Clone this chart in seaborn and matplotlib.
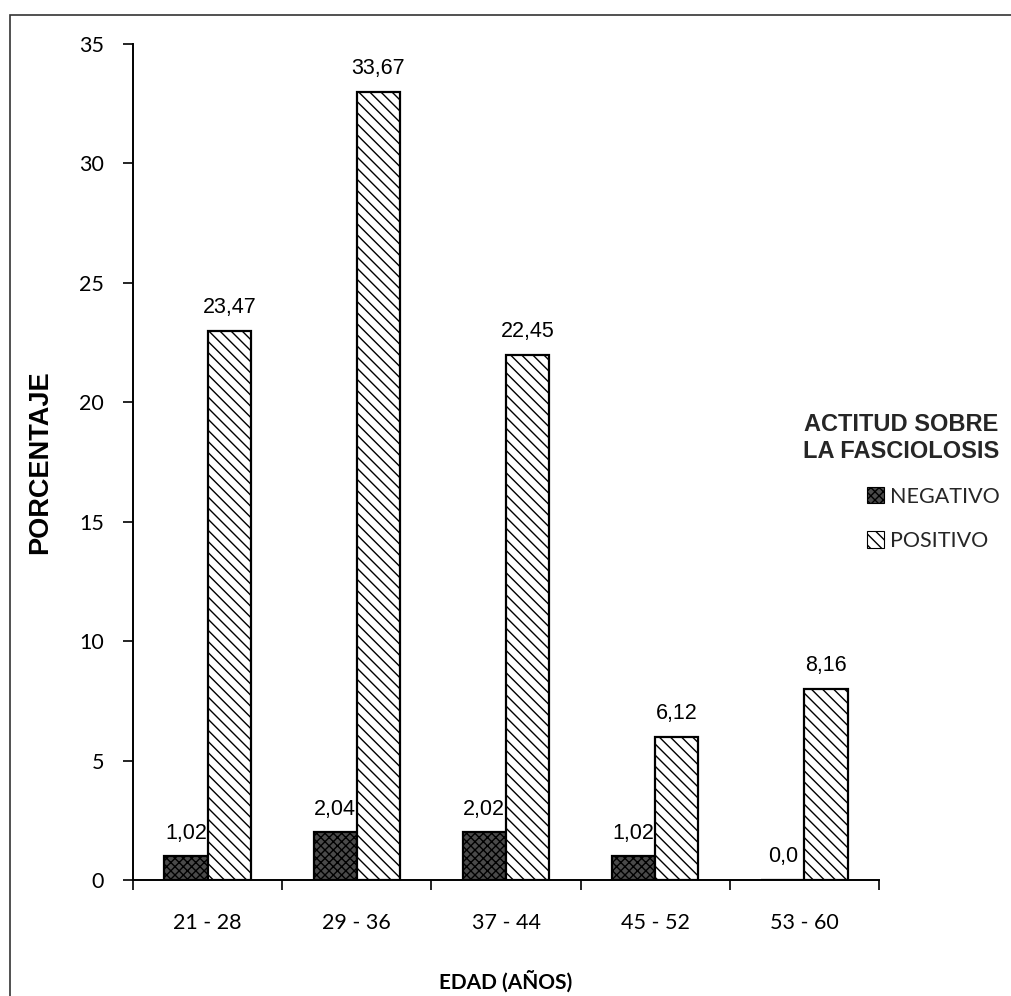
import matplotlib
matplotlib.use("Agg")
import matplotlib.pyplot as plt
import seaborn as sns
import pandas as pd
from matplotlib.patches import Patch, Rectangle

# ---- data ----
categories = ["21 - 28", "29 - 36", "37 - 44", "45 - 52", "53 - 60"]
negativo = [1, 2, 2, 1, 0]
positivo = [23, 33, 22, 6, 8]
negativo_labels = ["1,02", "2,04", "2,02", "1,02", "0,0"]
positivo_labels = ["23,47", "33,67", "22,45", "6,12", "8,16"]
series_names = ["NEGATIVO", "POSITIVO"]
y_ticks = [0, 5, 10, 15, 20, 25, 30, 35]

df = pd.DataFrame({
    "edad": categories * 2,
    "pct": negativo + positivo,
    "actitud": [series_names[0]] * len(categories) + [series_names[1]] * len(categories),
})

sns.set_theme(style="white")
plt.rcParams["hatch.linewidth"] = 1.0
plt.rcParams["hatch.color"] = "black"

fig = plt.figure(figsize=(10.11, 9.96), dpi=100)
ax = fig.add_axes([0.1316, 0.1165, 0.7378, 0.8393])

sns.barplot(data=df, x="edad", y="pct", hue="actitud", order=categories,
            hue_order=series_names, palette=["#4a4a4a", "white"],
            width=0.58, gap=0, edgecolor="black", linewidth=1.6,
            saturation=1, legend=False, ax=ax)

hatches = ["xxxx", "\\\\\\"]
faces = ["#4a4a4a", "white"]
for cont, h, fc in zip(ax.containers, hatches, faces):
    for p in cont:
        p.set_hatch(h)
        p.set_facecolor(fc)
        p.set_edgecolor("black")

value_font = dict(family="Liberation Sans", size=15.5, color="black")
ax.bar_label(ax.containers[0], labels=negativo_labels, padding=9, **value_font)
ax.bar_label(ax.containers[1], labels=positivo_labels, padding=9, **value_font)

ax.set_ylim(0, 35)
ax.set_xlim(-0.5, len(categories) - 0.5)
ax.set_yticks(y_ticks)
ax.set_yticklabels([str(v) for v in y_ticks], family="Lato", fontsize=15.5)
ax.set_xticks(range(len(categories)))
ax.set_xticklabels(categories, family="Lato", fontsize=15.5)
ax.set_xticks([i - 0.5 for i in range(len(categories) + 1)], minor=True)
ax.tick_params(axis="x", which="major", length=0, pad=24, colors="black")
ax.tick_params(axis="x", which="minor", length=7, width=1.2, direction="out", color="black", bottom=True)
ax.tick_params(axis="y", which="major", length=7, width=1.2, direction="out", pad=14, colors="black", left=True)

for s in ["top", "right"]:
    ax.spines[s].set_visible(False)
for s in ["left", "bottom"]:
    ax.spines[s].set_visible(True)
    ax.spines[s].set_color("black")
    ax.spines[s].set_linewidth(1.4)
ax.grid(False)

ax.set_ylabel("PORCENTAJE", family="Liberation Sans", fontweight="bold", fontsize=19.5, color="black")
ax.yaxis.set_label_coords(-0.107, 0.5)
ax.set_xlabel("EDAD (AÑOS)", family="Lato", fontweight="bold", fontsize=15, color="black")
ax.xaxis.set_label_coords(0.5, -0.108)

handles = [Patch(facecolor=fc, edgecolor="black", hatch=h, linewidth=0.8)
           for fc, h in zip(faces, ["xxxx", "\\\\\\"])]
leg = fig.legend(handles, series_names, loc="upper right",
                 bbox_to_anchor=(1008 / 1011, 0.594), frameon=False,
                 title="ACTITUD SOBRE\nLA FASCIOLOSIS",
                 prop=dict(family="Lato", size=15.5),
                 handlelength=0.8, handleheight=0.8, handletextpad=0.25,
                 labelspacing=1.12, borderaxespad=0)
leg.get_title().set_fontfamily("Liberation Sans")
leg.get_title().set_fontweight("bold")
leg.get_title().set_fontsize(17)
leg.get_title().set_multialignment("center")
leg._legend_box.align = "right"

# outer frame of the figure
fig.patches.append(Rectangle((10 / 1011, -0.1), 1.2, 1.1 - 15 / 996,
                             transform=fig.transFigure, fill=False,
                             edgecolor="#333333", linewidth=1.2, clip_on=False))

fig.savefig("out.png", dpi=100)
